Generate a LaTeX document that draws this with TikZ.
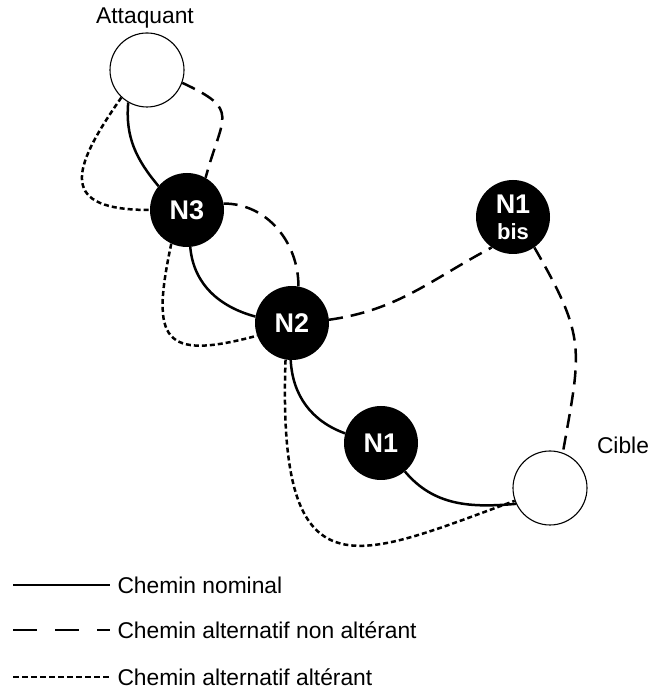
\documentclass[tikz,border=0pt]{standalone}
\usepackage{fontspec}
\setmainfont{Liberation Sans}

\begin{document}
\begin{tikzpicture}[x=1pt, y=1pt,
  hote/.style={circle, fill=black, minimum size=74pt, inner sep=0pt, text=white,
    font=\fontsize{27}{27}\selectfont\bfseries},
  bout/.style={circle, draw, line width=1.1pt, minimum size=74pt, inner sep=0pt},
  nominal/.style={line width=2.5pt},
  nonalt/.style={line width=2.5pt, dash pattern=on 14pt off 8pt},
  alt/.style={line width=2.5pt, dash pattern=on 5pt off 3pt},
  etiq/.style={font=\fontsize{22.8}{24}\selectfont}]
  \useasboundingbox (0,0) rectangle (650,692);

  % Extremites
  \node[bout] (atk) at (147,622) {};
  \node[etiq] (latk) at (145,674) {Attaquant};
  \node[bout] (cible) at (550,204) {};
  \node[etiq] (lcible) at (623,247) {Cible};

  % Noeuds
  \node[hote] (n3) at (187,482) {N3};
  \node[hote] (n2) at (292,369) {N2};
  \node[hote] (n1) at (381,249) {N1};
  \node[hote, align=center] (n1b) at (513,475)
    {N1\\[-1pt]{\fontsize{22}{22}\selectfont\bfseries bis}};

  % Chemin nominal
  \draw[nominal] (atk.240) to[out=265,in=130] (n3.140);
  \draw[nominal] (n3.-85) to[out=-85,in=165] (n2.170);
  \draw[nominal] (n2.-92) to[out=-87,in=160] (n1.165);
  \draw[nominal] (n1.-50) to[out=-50,in=185] (cible.205);

  % Chemins alternatifs non alterants
  \draw[nonalt] (atk.-20) to[out=-25,in=75,looseness=1.7] (n3.60);
  \draw[nonalt] (n3.10) to[out=0,in=90] (n2.80);
  \draw[nonalt] (n2.5) to[out=8,in=208] (n1b.235);
  \draw[nonalt] (n1b.-55) to[out=-60,in=80,looseness=1.3] (cible.70);

  % Chemins alternatifs alterants
  \draw[alt] (atk.227) to[out=235,in=180,looseness=2] (n3.180);
  \draw[alt] (n3.245) to[out=258,in=195,looseness=2] (n2.200);
  \draw[alt] (n2.-100) to[out=-92,in=200,out looseness=2.3,in looseness=1.6] (cible.200);

  % Legende
  \coordinate (l1) at (13,107);
  \coordinate (l2) at (13,62);
  \coordinate (l3) at (13,15);
  \node[etiq, anchor=west] (t1) at (114,107) {Chemin nominal};
  \node[etiq, anchor=west] (t2) at (114,62) {Chemin alternatif non altérant};
  \node[etiq, anchor=west] (t3) at (114,15) {Chemin alternatif altérant};
  \draw[nominal, line width=2.8pt, shorten >=4pt] (l1) -- (t1.west);
  \draw[nonalt, dash pattern=on 24pt off 18pt, shorten >=4pt] (l2) -- (t2.west);
  \draw[alt, dash pattern=on 6pt off 3pt, shorten >=4pt] (l3) -- (t3.west);
\end{tikzpicture}
\end{document}
